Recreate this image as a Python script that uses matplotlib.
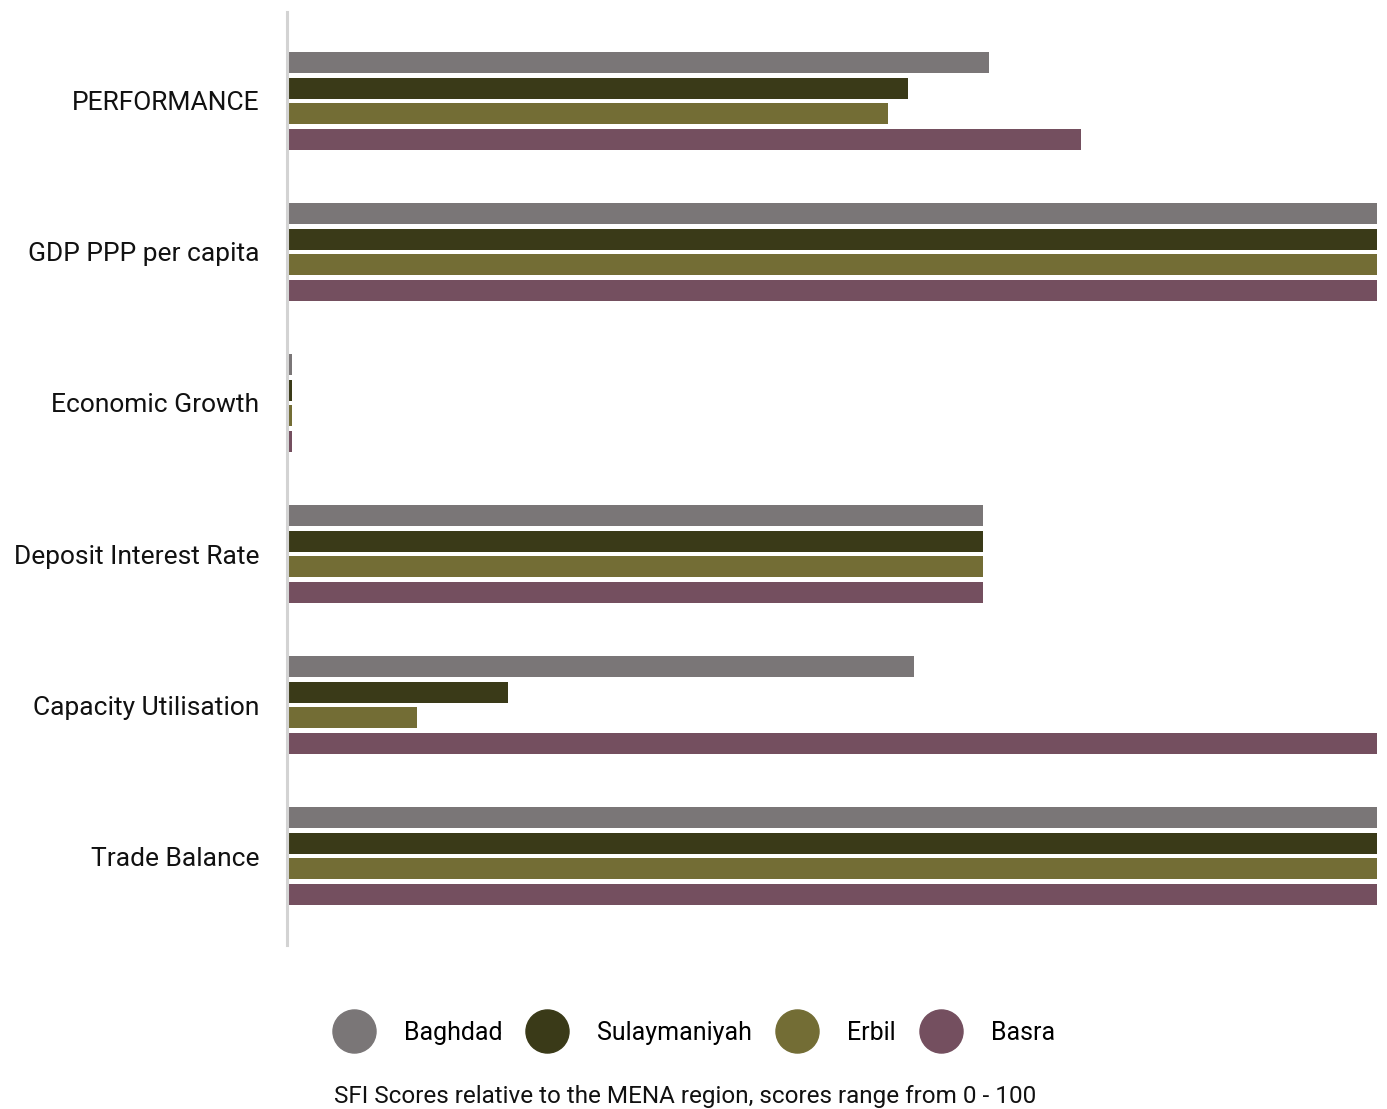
import matplotlib
matplotlib.use("Agg")
import matplotlib.pyplot as plt
from matplotlib.lines import Line2D
import numpy as np

categories = ["PERFORMANCE", "GDP PPP per capita", "Economic Growth",
              "Deposit Interest Rate", "Capacity Utilisation", "Trade Balance"]
series_names = ["Baghdad", "Sulaymaniyah", "Erbil", "Basra"]
baghdad = [64.3, 100, 0.3, 63.8, 57.4, 100]
sulaymaniyah = [56.9, 100, 0.3, 63.8, 20.1, 100]
erbil = [55.1, 100, 0.3, 63.8, 11.8, 100]
basra = [72.8, 100, 0.3, 63.8, 100, 100]
colors = ["#7a7677", "#3a3a18", "#736d35", "#744f5f"]
caption = "SFI Scores relative to the MENA region, scores range from 0 - 100"

plt.rcParams["font.family"] = ["Roboto", "DejaVu Sans"]

W, H = 1387, 1109
fig = plt.figure(figsize=(W / 100, H / 100), dpi=100)
ax = fig.add_axes([289 / W, 1 - 945 / H, (1377 - 289) / W, (945 - 12) / H])

# axis line just left of the bar origin
for s in ["top", "right", "bottom"]:
    ax.spines[s].set_visible(False)
ax.spines["left"].set_position(("data", -0.2))
ax.spines["left"].set_color("#d3d3d3")
ax.spines["left"].set_linewidth(2.2)

y = np.arange(len(categories))
pitch = 0.169
height = 0.139
offsets = (np.arange(4) - 1.5) * pitch
for vals, off, c in zip([baghdad, sulaymaniyah, erbil, basra], offsets, colors):
    ax.barh(y + off, vals, height=height, color=c, left=0)

ax.set_xlim(0, 100)
ax.set_ylim(len(categories) - 1 + 0.589, -0.589)
ax.set_yticks(y)
ax.set_yticklabels(categories, fontsize=19, color="#111111")
ax.tick_params(axis="y", length=0, pad=20)
ax.set_xticks([])

handles = [Line2D([0], [0], marker="o", linestyle="none", markersize=31,
                  markerfacecolor=c, markeredgecolor=c) for c in colors]
fig.legend(handles, series_names, loc="center", ncol=4, frameon=False,
           bbox_to_anchor=(692 / W, 1 - 1033 / H), fontsize=18,
           handletextpad=1.0, columnspacing=0.8)

fig.text(685 / W, 1 - 1097 / H, caption, ha="center", va="center",
         fontsize=17.5, color="#111111")

fig.savefig("out.png", dpi=100)
